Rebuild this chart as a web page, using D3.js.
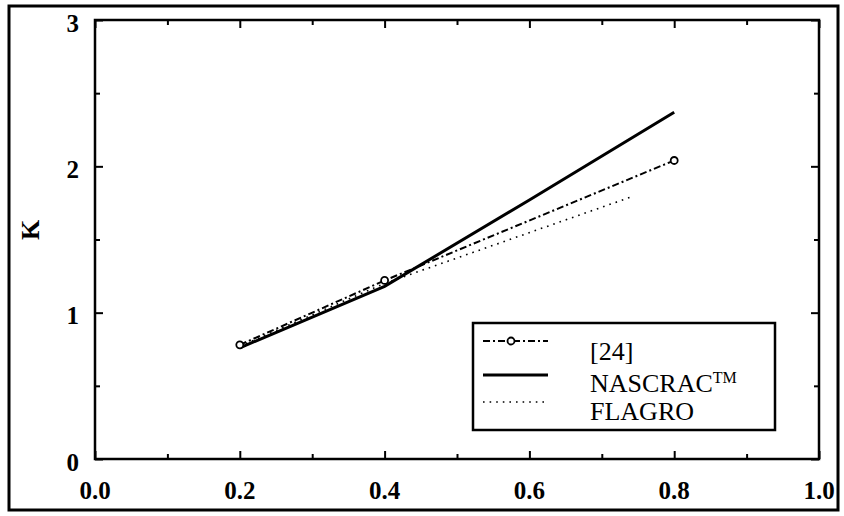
<!DOCTYPE html>
<html>
<head>
<meta charset="utf-8">
<script src="https://cdn.jsdelivr.net/npm/d3@7/dist/d3.min.js"></script>
<style>
  html, body { margin: 0; padding: 0; background: #fff; }
  svg { display: block; }
  text { font-family: "Liberation Serif", "Times New Roman", serif; fill: #000; }
</style>
</head>
<body>
<svg id="chart" width="844" height="516"></svg>
<script>
// Stress intensity factor K against crack ratio, three solutions
const ref24X = [0.2, 0.4, 0.8];
const ref24K = [0.78, 1.22, 2.04];
const nascracX = [0.2, 0.4, 0.6, 0.8];
const nascracK = [0.76, 1.18, 1.77, 2.37];
const flagroX = [0.2, 0.4, 0.74];
const flagroK = [0.77, 1.20, 1.79];

const xTicks = [0.0, 0.2, 0.4, 0.6, 0.8, 1.0];
const xMinor = [0.1, 0.3, 0.5, 0.7, 0.9];
const yTicks = [0, 1, 2, 3];
const yMinor = [0.5, 1.5, 2.5];
const legendLabels = ["[24]", "NASCRAC", "FLAGRO"];

const svg = d3.select("#chart");
const L = 95, R = 819, T = 20, B = 459;

const x = d3.scaleLinear().domain([0, 1]).range([L, R]);
const y = d3.scaleLinear().domain([0, 3]).range([B, T]);

// outer frame
svg.append("rect")
  .attr("x", 9).attr("y", 6).attr("width", 829).attr("height", 504)
  .attr("fill", "none").attr("stroke", "#000").attr("stroke-width", 3);

// axes: ticks point inward on all four sides
const tickStyle = g => {
  g.select(".domain").remove();
  g.selectAll("line").attr("stroke", "#000").attr("stroke-width", 2);
};
svg.append("g").attr("transform", `translate(0,${B})`)
  .call(d3.axisTop(x).tickValues(xTicks).tickSize(8).tickFormat(""))
  .call(tickStyle);
svg.append("g").attr("transform", `translate(0,${B})`)
  .call(d3.axisTop(x).tickValues(xMinor).tickSize(5).tickFormat(""))
  .call(tickStyle);
svg.append("g").attr("transform", `translate(0,${T})`)
  .call(d3.axisBottom(x).tickValues(xTicks).tickSize(8).tickFormat(""))
  .call(tickStyle);
svg.append("g").attr("transform", `translate(0,${T})`)
  .call(d3.axisBottom(x).tickValues(xMinor).tickSize(5).tickFormat(""))
  .call(tickStyle);
svg.append("g").attr("transform", `translate(${L},0)`)
  .call(d3.axisRight(y).tickValues(yTicks).tickSize(8).tickFormat(""))
  .call(tickStyle);
svg.append("g").attr("transform", `translate(${L},0)`)
  .call(d3.axisRight(y).tickValues(yMinor).tickSize(5).tickFormat(""))
  .call(tickStyle);
svg.append("g").attr("transform", `translate(${R},0)`)
  .call(d3.axisLeft(y).tickValues(yTicks).tickSize(8).tickFormat(""))
  .call(tickStyle);
svg.append("g").attr("transform", `translate(${R},0)`)
  .call(d3.axisLeft(y).tickValues(yMinor).tickSize(5).tickFormat(""))
  .call(tickStyle);

// plot frame
svg.append("rect")
  .attr("x", L).attr("y", T).attr("width", R - L).attr("height", B - T)
  .attr("fill", "none").attr("stroke", "#000").attr("stroke-width", 2.5);

// tick labels
svg.append("g").selectAll("text").data(xTicks).join("text")
  .attr("x", d => x(d)).attr("y", 499)
  .attr("text-anchor", "middle")
  .attr("font-size", 25).attr("font-weight", "bold")
  .text(d => d3.format(".1f")(d));
svg.append("g").selectAll("text").data(yTicks).join("text")
  .attr("x", 79).attr("y", d => Math.min(y(d), 30) === 30 && d === 3 ? 30 : y(d) + 3)
  .attr("dy", "0.35em")
  .attr("text-anchor", "end")
  .attr("font-size", 25).attr("font-weight", "bold")
  .text(d => d);

// axis title
svg.append("text")
  .attr("transform", "translate(30,230) rotate(-90)")
  .attr("text-anchor", "middle").attr("dy", "0.35em")
  .attr("font-size", 26).attr("font-weight", "bold")
  .text("K");

// series
const line = d3.line().x(d => x(d[0])).y(d => y(d[1]));
const ref24 = d3.zip(ref24X, ref24K);
const nascrac = d3.zip(nascracX, nascracK);
const flagro = d3.zip(flagroX, flagroK);

const styles = {
  ref24: { width: 2, dash: "7,3,2,3" },
  nascrac: { width: 3, dash: null },
  flagro: { width: 1.6, dash: "1.6,5" }
};

svg.append("path").datum(flagro).attr("d", line)
  .attr("fill", "none").attr("stroke", "#000")
  .attr("stroke-width", styles.flagro.width).attr("stroke-dasharray", styles.flagro.dash);
svg.append("path").datum(nascrac).attr("d", line)
  .attr("fill", "none").attr("stroke", "#000")
  .attr("stroke-width", styles.nascrac.width);
svg.append("path").datum(ref24).attr("d", line)
  .attr("fill", "none").attr("stroke", "#000")
  .attr("stroke-width", styles.ref24.width).attr("stroke-dasharray", styles.ref24.dash);
svg.append("g").selectAll("circle").data(ref24).join("circle")
  .attr("cx", d => x(d[0])).attr("cy", d => y(d[1])).attr("r", 3.5)
  .attr("fill", "#fff").attr("stroke", "#000").attr("stroke-width", 1.8);

// legend
const lg = svg.append("g");
lg.append("rect")
  .attr("x", 473).attr("y", 323).attr("width", 302).attr("height", 107)
  .attr("fill", "#fff").attr("stroke", "#000").attr("stroke-width", 2.5);

const rows = [
  { key: "ref24", sy: 341, ty: 360 },
  { key: "nascrac", sy: 375, ty: 392 },
  { key: "flagro", sy: 402, ty: 420 }
];
rows.forEach((r, i) => {
  const s = styles[r.key];
  lg.append("line")
    .attr("x1", 483).attr("x2", 548).attr("y1", r.sy).attr("y2", r.sy)
    .attr("stroke", "#000").attr("stroke-width", s.width)
    .attr("stroke-dasharray", s.dash);
  if (r.key === "ref24") {
    lg.append("circle").attr("cx", 511).attr("cy", r.sy).attr("r", 3.5)
      .attr("fill", "#fff").attr("stroke", "#000").attr("stroke-width", 1.8);
  }
  const t = lg.append("text").attr("x", 590).attr("y", r.ty).attr("font-size", 26)
    .text(legendLabels[i]);
  if (r.key === "nascrac") {
    t.append("tspan").attr("font-size", 16).attr("dy", -9).text("TM");
  }
});
</script>
</body>
</html>
